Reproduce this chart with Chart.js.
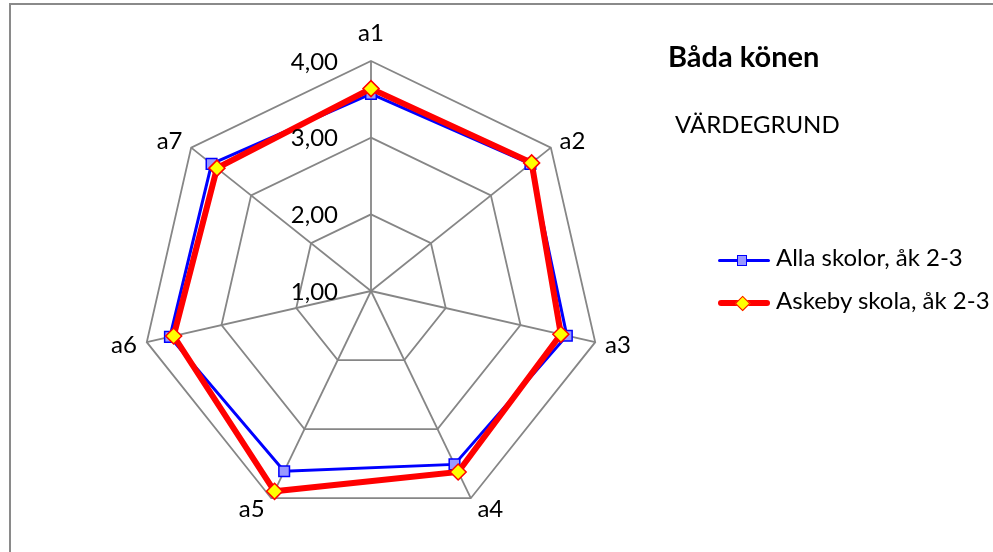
<!DOCTYPE html>
<html>
<head>
<meta charset="utf-8">
<script src="https://cdn.jsdelivr.net/npm/chart.js@4/dist/chart.umd.min.js"></script>
<style>
  html, body { margin: 0; padding: 0; background: #fff; overflow: hidden; width: 993px; height: 552px; }
  #wrap { position: relative; width: 993px; height: 552px; overflow: hidden; }
  #frame { position: absolute; left: 9px; top: 3px; width: 1200px; height: 800px;
           border-left: 2px solid #8a8a8a; border-top: 2px solid #8a8a8a; }
  #c { position: absolute; left: 0; top: 0; }
  .t { position: absolute; font-family: Lato, "Open Sans", sans-serif; line-height: 1; white-space: nowrap; color: #000; }
  #title { left: 668px; top: 41px; font-size: 29px; font-weight: bold; }
  #sub { left: 675px; top: 112px; font-size: 24px; }
  .leg { position: absolute; left: 718px; width: 275px; height: 30px; }
  .leg .ln { position: absolute; left: 0; width: 52px; }
  .leg .mk { position: absolute; box-sizing: border-box; }
  .leg .tx { position: absolute; left: 58px; font-family: Lato, "Open Sans", sans-serif; font-size: 24px; line-height: 1; white-space: nowrap; color: #000; }
</style>
</head>
<body>
<div id="wrap">
  <div id="frame"></div>
  <canvas id="c" width="993" height="552"></canvas>
  <div class="t" id="title"></div>
  <div class="t" id="sub"></div>
  <div id="legend"></div>
</div>
<script>
// ---- data ----
const categories = ['a1', 'a2', 'a3', 'a4', 'a5', 'a6', 'a7'];
const seriesNames = ['Alla skolor, åk 2-3', 'Askeby skola, åk 2-3'];
const allaSkolor = [3.57, 3.66, 3.62, 3.51, 3.61, 3.69, 3.66];
const askebySkola = [3.64, 3.68, 3.54, 3.62, 3.90, 3.64, 3.57];
const tickValues = [1, 2, 3, 4];
const chartTitle = 'Båda könen';
const chartSubtitle = 'VÄRDEGRUND';

// ---- styles ----
const seriesStyles = [
  { line: '#0000ff', width: 3, pointStyle: 'rect', radius: 7.5, fill: '#9999ff', border: '#0000ff' },
  { line: '#ff0000', width: 6, pointStyle: 'rectRot', radius: 8, fill: '#ffff00', border: '#ff0000' }
];
const seriesData = [allaSkolor, askebySkola];

function fmt(v) { return v.toFixed(2).replace('.', ','); }

document.getElementById('title').textContent = chartTitle;
document.getElementById('sub').textContent = chartSubtitle;

// ---- HTML legend ----
const legendRows = [260.7, 303.3];
const legendEl = document.getElementById('legend');
seriesNames.forEach((name, i) => {
  const st = seriesStyles[i];
  const row = document.createElement('div');
  row.className = 'leg';
  row.style.top = (legendRows[i] - 15) + 'px';
  const ln = document.createElement('div');
  ln.className = 'ln';
  ln.style.top = (15 - st.width / 2) + 'px';
  ln.style.height = st.width + 'px';
  ln.style.borderRadius = (st.width / 2) + 'px';
  ln.style.background = st.line;
  row.appendChild(ln);
  const mk = document.createElement('div');
  mk.className = 'mk';
  const s = st.radius * Math.SQRT2;
  mk.style.width = s + 'px'; mk.style.height = s + 'px';
  mk.style.top = (15 - s / 2) + 'px';
  mk.style.background = st.fill; mk.style.border = '1.5px solid ' + st.border;
  if (st.pointStyle === 'rect') {
    mk.style.left = (24 - s / 2) + 'px';
  } else {
    mk.style.left = (25 - s / 2) + 'px';
    mk.style.transform = 'rotate(45deg)';
  }
  row.appendChild(mk);
  const tx = document.createElement('div');
  tx.className = 'tx';
  tx.style.top = (i === 0 ? -1 : 0) + 'px';
  tx.textContent = name;
  row.appendChild(tx);
  legendEl.appendChild(row);
});

// ---- label plugin (tick labels + category labels placed Excel-style) ----
const labelPlugin = {
  id: 'excelLabels',
  afterDraw(chart) {
    const s = chart.scales.r;
    const ctx = chart.ctx;
    ctx.save();
    ctx.fillStyle = '#000';
    ctx.font = '24px Lato, "Open Sans", sans-serif';
    ctx.textAlign = 'right';
    ctx.textBaseline = 'middle';
    s.ticks.forEach(t => {
      const d = s.getDistanceFromCenterForValue(t.value);
      ctx.fillText(fmt(t.value), s.xCenter - 33, s.yCenter - d + 1);
    });
    chart.data.labels.forEach((lab, i) => {
      const ang = s.getIndexAngle(i);
      const p = s.getPointPosition(i, s.drawingArea);
      const sn = Math.sin(ang), cs = Math.cos(ang);
      if (Math.abs(sn) < 0.01) {
        ctx.textAlign = 'center';
        ctx.textBaseline = 'alphabetic';
        ctx.fillText(lab, p.x, p.y - 20);
      } else {
        const gap = 4 + 6 * Math.abs(sn);
        ctx.textAlign = sn > 0 ? 'left' : 'right';
        ctx.textBaseline = 'middle';
        ctx.fillText(lab, p.x + Math.sign(sn) * gap, p.y - cs * 11 + 1);
      }
    });
    ctx.restore();
  }
};

new Chart(document.getElementById('c'), {
  type: 'radar',
  data: {
    labels: categories,
    datasets: seriesNames.map((name, i) => ({
      label: name,
      data: seriesData[i],
      borderColor: seriesStyles[i].line,
      borderWidth: seriesStyles[i].width,
      backgroundColor: 'transparent',
      fill: false,
      pointStyle: seriesStyles[i].pointStyle,
      pointRadius: seriesStyles[i].radius,
      pointBackgroundColor: seriesStyles[i].fill,
      pointBorderColor: seriesStyles[i].border,
      pointBorderWidth: 1.5,
      order: 2 - i
    }))
  },
  options: {
    responsive: false,
    animation: false,
    devicePixelRatio: 1,
    plugins: { legend: { display: false }, tooltip: { enabled: false } },
    scales: {
      r: {
        min: tickValues[0],
        max: tickValues[tickValues.length - 1],
        ticks: { stepSize: 1, display: false },
        grid: { color: '#868686', lineWidth: 1.8 },
        angleLines: { color: '#868686', lineWidth: 1.8 },
        pointLabels: { display: false },
        afterFit(scale) {
          scale.xCenter = 371;
          scale.yCenter = 291;
          scale.drawingArea = 230;
        }
      }
    }
  },
  plugins: [labelPlugin]
});
</script>
</body>
</html>
